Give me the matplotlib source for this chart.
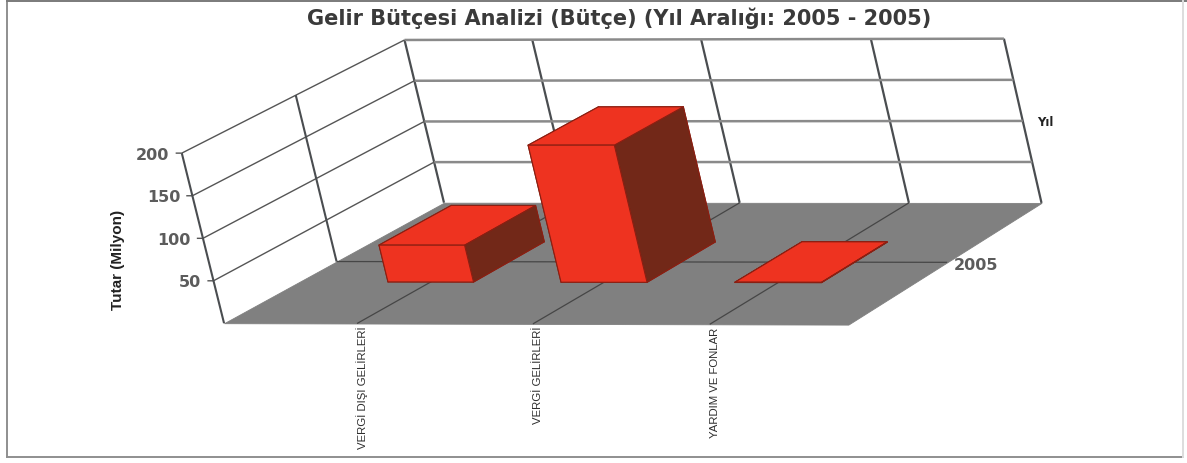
import matplotlib
matplotlib.use("Agg")
import matplotlib.pyplot as plt
from matplotlib.lines import Line2D
from mpl_toolkits.mplot3d import proj3d
from mpl_toolkits.mplot3d.art3d import Poly3DCollection, Line3DCollection
import numpy as np

# ---- data ----
categories = ["VERGİ DIŞI GELİRLERİ", "VERGİ GELİRLERİ", "YARDIM VE FONLAR"]
values = [44, 163, 0.3]
years = ["2005"]
z_ticks = [50, 100, 150, 200]
title = "Gelir Bütçesi Analizi (Bütçe) (Yıl Aralığı: 2005 - 2005)"

W, H = 1187, 463
XMIN, XMAX = 0.24, 3.78
YMIN, YMAX = -0.5, 0.5
ZMAX = 200
BAR_W, BAR_D = 0.495, 1 / 3

# camera: world (category, year, amount) -> image, fitted from the frame's corners
world = [(XMIN, YMIN, 0), (XMAX, YMIN, 0), (XMIN, YMAX, 0), (XMAX, YMAX, 0),
         (XMIN, YMAX, ZMAX), (XMAX, YMAX, ZMAX), (XMIN, YMIN, ZMAX),
         (XMIN, 0, ZMAX), (XMIN, 0, 0),
         (1, YMIN, 0), (2, YMIN, 0), (3, YMIN, 0), (1, YMAX, 0), (2, YMAX, 0), (3, YMAX, 0)]
image = [(223, 323), (848, 325), (444, 203), (1040, 203),
         (404, 40), (1004, 38), (182, 153),
         (296, 96), (338, 260),
         (357, 324), (533, 324), (710, 324), (570, 203), (740, 203), (911, 203)]
A, b = [], []
for (x, y, z), (u, v) in zip(world, image):
    A.append([x, y, z, 1, 0, 0, 0, 0, -u * x, -u * y, -u * z]); b.append(u)
    A.append([0, 0, 0, 0, x, y, z, 1, -v * x, -v * y, -v * z]); b.append(v)
p = np.linalg.lstsq(np.array(A, float), np.array(b, float), rcond=None)[0]
M = np.array([[p[0], p[1], p[2], p[3]],
              [p[4], p[5], p[6], p[7]],
              [-0.1, 1.0, -0.001, 0.0],
              [p[8], p[9], p[10], 1.0]])

fig = plt.figure(figsize=(W / 100, H / 100), dpi=100, facecolor="white")
ax = fig.add_axes([0, 0, 1, 1], projection="3d")
ax.set_axis_off()
ax.computed_zorder = False
ax.get_proj = lambda: M
ax.apply_aspect = lambda position=None: None
ax.viewLim.intervalx = (0, W)
ax.viewLim.intervaly = (H, 0)

DARK, MID, LEFTLINE, FLOORLINE = "#4a4d50", "#8a8a8a", "#555555", "#464646"
FLOOR, RED, SIDE, EDGE = "#808080", "#ee3320", "#722818", "#8a1f12"


def segments(segs, color, lw, zorder):
    ax.add_collection3d(Line3DCollection(segs, colors=color, linewidths=lw, zorder=zorder), autolim=False)


def label3d(x, y, z, s, dx=0, dy=0, **kw):
    u, v, _ = proj3d.proj_transform(x, y, z, M)
    return ax.text2D(float(u) + dx, float(v) + dy, s, transform=ax.transData, **kw)


# floor
floor = Poly3DCollection([[(XMIN, YMIN, 0), (XMAX, YMIN, 0), (XMAX, YMAX, 0), (XMIN, YMAX, 0)]],
                         facecolor=FLOOR, edgecolor=FLOOR, linewidth=0.6, zorder=1)
ax.add_collection3d(floor, autolim=False)

xpos = np.arange(1, len(categories) + 1)
# walls
segments([[(x, YMAX, 0), (x, YMAX, ZMAX)] for x in [XMIN, *xpos, XMAX]], DARK, 1.6, 2)
segments([[(XMIN, YMAX, z), (XMAX, YMAX, z)] for z in z_ticks], MID, 1.8, 2)
segments([[(XMIN, YMIN, z), (XMIN, YMAX, z)] for z in z_ticks], LEFTLINE, 1.0, 2)
segments([[(XMIN - 0.035, YMIN, z), (XMIN, YMIN, z)] for z in z_ticks], LEFTLINE, 1.0, 2)
segments([[(XMIN, y, 0), (XMIN, y, ZMAX)] for y in [YMIN, 0]], DARK, 1.5, 2)
# floor grid
segments([[(x, YMIN, 0), (x, YMAX, 0)] for x in xpos], FLOORLINE, 0.9, 3)
segments([[(XMIN, 0, 0), (XMAX, 0, 0)]], FLOORLINE, 0.9, 3)

# bars (faces: bottom, top, front, back, left, right)
faces = [RED, RED, RED, SIDE, SIDE, SIDE]
ax.bar3d(xpos - BAR_W / 2, np.full(len(xpos), -BAR_D / 2), np.zeros(len(xpos)),
         BAR_W, BAR_D, values, color=faces * len(xpos), shade=False,
         edgecolor=EDGE, linewidth=0.8, zorder=4)

NARROW = ["Liberation Sans Narrow", "Liberation Sans"]
TICK = dict(fontsize=11.5, fontweight="bold", color="#5c5c5c", zorder=6)
for z in z_ticks:
    label3d(XMIN - 0.07, YMIN, z, str(z), dy=2, ha="right", va="center", **TICK)
# category labels, hung below the floor's front edge
for x, label in zip(xpos, categories):
    label3d(x, YMIN, 0, label, dx=5, dy=3, rotation=90, ha="center", va="top", fontsize=8.2,
            family=NARROW, color="#2e2e2e", zorder=6)
# year label at the floor's right edge
label3d(XMAX, 0, 0, years[0], dx=7, dy=3, ha="left", va="center", **TICK)


def px(x, y):
    return x / W, 1 - y / H


fig.text(*px(619, 18), title, ha="center", va="center", fontsize=15, fontweight="bold", color="#3a3a3a")
fig.text(*px(1037, 123), "Yıl", ha="left", va="center", fontsize=8.5, fontweight="bold", color="#222222")
fig.text(*px(118, 260), "Tutar (Milyon)", rotation=90, ha="center", va="center", fontsize=11,
         fontweight="bold", family=NARROW, color="#222222")

# outer frame
for (x0, y0, x1, y1), c in [((7, 1, 7, 457), "#8f8f8f"), ((7, 1, 1187, 1), "#7a7a7a"),
                            ((7, 457, 1183, 457), "#8f8f8f"), ((1183, 1, 1183, 457), "#dddddd")]:
    (a, b_), (c_, d) = px(x0, y0), px(x1, y1)
    fig.add_artist(Line2D([a, c_], [b_, d], transform=fig.transFigure, color=c, lw=1.4))

fig.savefig("out.png", dpi=100)
